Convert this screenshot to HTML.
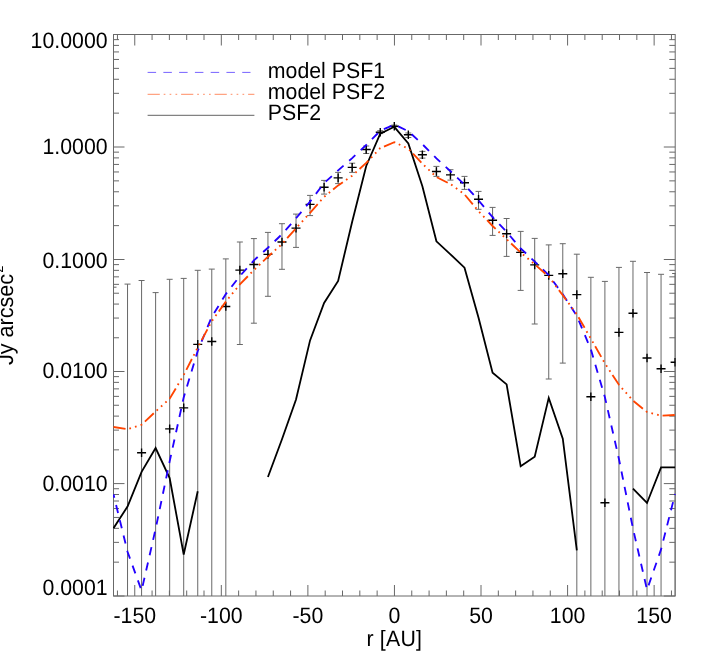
<!DOCTYPE html>
<html><head><meta charset="utf-8"><title>plot</title>
<style>html,body{margin:0;padding:0;background:#fff;}body{width:709px;height:668px;overflow:hidden;font-family:"Liberation Sans",sans-serif;}svg{display:block;will-change:transform;}</style>
</head><body>
<svg width="709" height="668" viewBox="0 0 709 668">
<rect width="709" height="668" fill="#fff"/>
<defs><clipPath id="c"><rect x="113.0" y="34.0" width="562.7" height="562.5"/></clipPath></defs>
<g stroke="#686868" stroke-width="1" fill="none" shape-rendering="auto">
<rect x="113.5" y="34.5" width="561.7" height="561.5"/>
<path d="M117.44 596.0v-5.5M117.44 34.5v5.5M134.75 596.0v-11M134.75 34.5v11M152.07 596.0v-5.5M152.07 34.5v5.5M169.38 596.0v-5.5M169.38 34.5v5.5M186.69 596.0v-5.5M186.69 34.5v5.5M204.01 596.0v-5.5M204.01 34.5v5.5M221.32 596.0v-11M221.32 34.5v11M238.63 596.0v-5.5M238.63 34.5v5.5M255.95 596.0v-5.5M255.95 34.5v5.5M273.26 596.0v-5.5M273.26 34.5v5.5M290.57 596.0v-5.5M290.57 34.5v5.5M307.88 596.0v-11M307.88 34.5v11M325.20 596.0v-5.5M325.20 34.5v5.5M342.51 596.0v-5.5M342.51 34.5v5.5M359.82 596.0v-5.5M359.82 34.5v5.5M377.14 596.0v-5.5M377.14 34.5v5.5M394.45 596.0v-11M394.45 34.5v11M411.76 596.0v-5.5M411.76 34.5v5.5M429.08 596.0v-5.5M429.08 34.5v5.5M446.39 596.0v-5.5M446.39 34.5v5.5M463.70 596.0v-5.5M463.70 34.5v5.5M481.01 596.0v-11M481.01 34.5v11M498.33 596.0v-5.5M498.33 34.5v5.5M515.64 596.0v-5.5M515.64 34.5v5.5M532.95 596.0v-5.5M532.95 34.5v5.5M550.27 596.0v-5.5M550.27 34.5v5.5M567.58 596.0v-11M567.58 34.5v11M584.89 596.0v-5.5M584.89 34.5v5.5M602.21 596.0v-5.5M602.21 34.5v5.5M619.52 596.0v-5.5M619.52 34.5v5.5M636.83 596.0v-5.5M636.83 34.5v5.5M654.14 596.0v-11M654.14 34.5v11M671.46 596.0v-5.5M671.46 34.5v5.5M113.5 596.00h11M675.2 596.00h-11.4M113.5 562.16h5.5M675.2 562.16h-5.9M113.5 542.37h5.5M675.2 542.37h-5.9M113.5 528.33h5.5M675.2 528.33h-5.9M113.5 517.44h5.5M675.2 517.44h-5.9M113.5 508.54h5.5M675.2 508.54h-5.9M113.5 501.01h5.5M675.2 501.01h-5.9M113.5 494.49h5.5M675.2 494.49h-5.9M113.5 488.74h5.5M675.2 488.74h-5.9M113.5 483.60h11M675.2 483.60h-11.4M113.5 449.85h5.5M675.2 449.85h-5.9M113.5 430.11h5.5M675.2 430.11h-5.9M113.5 416.11h5.5M675.2 416.11h-5.9M113.5 405.25h5.5M675.2 405.25h-5.9M113.5 396.37h5.5M675.2 396.37h-5.9M113.5 388.86h5.5M675.2 388.86h-5.9M113.5 382.36h5.5M675.2 382.36h-5.9M113.5 376.63h5.5M675.2 376.63h-5.9M113.5 371.50h11M675.2 371.50h-11.4M113.5 337.78h5.5M675.2 337.78h-5.9M113.5 318.06h5.5M675.2 318.06h-5.9M113.5 304.07h5.5M675.2 304.07h-5.9M113.5 293.22h5.5M675.2 293.22h-5.9M113.5 284.35h5.5M675.2 284.35h-5.9M113.5 276.85h5.5M675.2 276.85h-5.9M113.5 270.35h5.5M675.2 270.35h-5.9M113.5 264.62h5.5M675.2 264.62h-5.9M113.5 259.50h11M675.2 259.50h-11.4M113.5 225.63h5.5M675.2 225.63h-5.9M113.5 205.82h5.5M675.2 205.82h-5.9M113.5 191.77h5.5M675.2 191.77h-5.9M113.5 180.87h5.5M675.2 180.87h-5.9M113.5 171.96h5.5M675.2 171.96h-5.9M113.5 164.43h5.5M675.2 164.43h-5.9M113.5 157.90h5.5M675.2 157.90h-5.9M113.5 152.15h5.5M675.2 152.15h-5.9M113.5 147.00h11M675.2 147.00h-11.4M113.5 113.13h5.5M675.2 113.13h-5.9M113.5 93.32h5.5M675.2 93.32h-5.9M113.5 79.27h5.5M675.2 79.27h-5.9M113.5 68.37h5.5M675.2 68.37h-5.9M113.5 59.46h5.5M675.2 59.46h-5.9M113.5 51.93h5.5M675.2 51.93h-5.9M113.5 45.40h5.5M675.2 45.40h-5.9M113.5 39.65h5.5M675.2 39.65h-5.9"/>
</g>
<g stroke="#686868" stroke-width="1" fill="none" clip-path="url(#c)">
<path d="M113.50 287.2V596.0M110.50 287.2h6M127.54 284.1V596.0M124.54 284.1h6M141.58 280.5V596.0M138.58 280.5h6M155.62 292.6V596.0M152.62 292.6h6M169.66 279.3V596.0M166.66 279.3h6M183.70 278.4V596.0M180.70 278.4h6M197.74 270.3V596.0M194.74 270.3h6M211.78 269.1V596.0M208.78 269.1h6M225.82 258.9V596.0M222.82 258.9h6M239.86 242.0V344.5M236.86 242.0h6M236.86 344.5h6M253.90 238.6V323.2M250.90 238.6h6M250.90 323.2h6M267.94 232.4V296.3M264.94 232.4h6M264.94 296.3h6M281.98 223.7V269.3M278.98 223.7h6M278.98 269.3h6M296.02 214.1V247.4M293.02 214.1h6M293.02 247.4h6M310.06 195.4V215.6M307.06 195.4h6M307.06 215.6h6M324.10 180.4V194.1M321.10 180.4h6M321.10 194.1h6M338.14 172.4V183.6M335.14 172.4h6M335.14 183.6h6M352.18 163.2V172.4M349.18 163.2h6M349.18 172.4h6M366.22 146.0V153.5M363.22 146.0h6M363.22 153.5h6M380.26 130.7V133.6M377.26 130.7h6M377.26 133.6h6M394.30 125.1V126.8M391.30 125.1h6M391.30 126.8h6M408.34 133.0V137.5M405.34 133.0h6M405.34 137.5h6M422.38 151.4V158.1M419.38 151.4h6M419.38 158.1h6M436.42 166.4V176.4M433.42 166.4h6M433.42 176.4h6M450.46 169.7V180.1M447.46 169.7h6M447.46 180.1h6M464.50 176.4V189.4M461.50 176.4h6M461.50 189.4h6M478.54 191.4V209.3M475.54 191.4h6M475.54 209.3h6M492.58 207.4V235.4M489.58 207.4h6M489.58 235.4h6M506.62 218.5V256.4M503.62 218.5h6M503.62 256.4h6M520.66 231.4V290.4M517.66 231.4h6M517.66 290.4h6M534.70 238.4V324.0M531.70 238.4h6M531.70 324.0h6M548.74 244.9V379.0M545.74 244.9h6M545.74 379.0h6M562.78 243.7V363.1M559.78 243.7h6M559.78 363.1h6M576.82 254.2V596.0M573.82 254.2h6M590.86 277.3V596.0M587.86 277.3h6M604.90 281.4V596.0M601.90 281.4h6M618.94 267.4V596.0M615.94 267.4h6M632.98 261.3V596.0M629.98 261.3h6M647.02 272.5V596.0M644.02 272.5h6M661.06 274.3V596.0M658.06 274.3h6M675.10 273.5V596.0M672.10 273.5h6"/>
</g>
<g stroke="#000" stroke-width="1.4" fill="none" clip-path="url(#c)">
<path d="M137.08 452.7h9M141.58 448.4v8.6M165.16 428.9h9M169.66 424.6v8.6M179.20 407.9h9M183.70 403.6v8.6M193.24 344.4h9M197.74 340.1v8.6M207.28 341.5h9M211.78 337.2v8.6M221.32 306.5h9M225.82 302.2v8.6M235.36 270.1h9M239.86 265.8v8.6M249.40 264.5h9M253.90 260.2v8.6M263.44 254.4h9M267.94 250.1v8.6M277.48 242.0h9M281.98 237.7v8.6M291.52 228.1h9M296.02 223.8v8.6M305.56 204.4h9M310.06 200.1v8.6M319.60 187.2h9M324.10 182.9v8.6M333.64 177.9h9M338.14 173.6v8.6M347.68 167.4h9M352.18 163.1v8.6M361.72 149.5h9M366.22 145.2v8.6M375.76 132.2h9M380.26 127.9v8.6M389.80 126.3h9M394.30 122.0v8.6M403.84 134.8h9M408.34 130.5v8.6M417.88 154.7h9M422.38 150.4v8.6M431.92 171.5h9M436.42 167.2v8.6M445.96 174.9h9M450.46 170.6v8.6M460.00 182.7h9M464.50 178.4v8.6M474.04 199.3h9M478.54 195.0v8.6M488.08 220.2h9M492.58 215.9v8.6M502.12 233.7h9M506.62 229.3v8.6M516.16 252.4h9M520.66 248.1v8.6M530.20 264.9h9M534.70 260.6v8.6M544.24 275.4h9M548.74 271.1v8.6M558.28 273.8h9M562.78 269.5v8.6M572.32 294.6h9M576.82 290.3v8.6M586.36 396.7h9M590.86 392.4v8.6M600.40 502.7h9M604.90 498.4v8.6M614.44 332.4h9M618.94 328.1v8.6M628.48 313.2h9M632.98 308.9v8.6M642.52 358.0h9M647.02 353.7v8.6M656.56 368.7h9M661.06 364.4v8.6M670.60 362.2h9M675.10 357.9v8.6"/>
</g>
<g fill="none" stroke-width="1.85" clip-path="url(#c)" stroke-linejoin="miter">
<polyline stroke="#000" stroke-width="1.8" points="113.50,528.2 127.54,506.5 141.58,471.9 155.62,448.0 169.66,478.0 183.70,554.5 197.74,491.2"/>
<polyline stroke="#000" stroke-width="1.8" points="267.94,477.0 281.98,439.3 296.02,399.5 310.06,340.4 324.10,302.9 338.14,280.9 352.18,221.7 366.22,166.0 380.26,133.6 394.30,126.8 408.34,143.5 422.38,186.3 436.42,241.3 450.46,254.3 464.50,267.7 478.54,317.8 492.58,372.8 506.62,384.4 520.66,466.3 534.70,456.7 548.74,397.9 562.78,438.6 576.82,550.3"/>
<polyline stroke="#000" stroke-width="1.8" points="632.98,488.6 647.02,503.0 661.06,467.4 675.10,467.4"/>
<polyline stroke="#2200ff" stroke-dasharray="8.3 7.415" stroke-dashoffset="4.8" points="113.50,494.4 127.54,551.8 141.58,590.6 155.62,528.9 169.66,461.4 183.70,397.4 197.74,350.9 211.78,316.8 225.82,294.1 239.86,276.1 253.90,260.4 267.94,247.7 281.98,234.2 296.02,218.3 310.06,201.6 324.10,183.1 338.14,170.4 352.18,158.1 366.22,145.0 380.26,130.8 394.30,124.6 408.34,131.2 422.38,144.2 436.42,158.4 450.46,171.2 464.50,184.6 478.54,200.4 492.58,217.2 506.62,231.9 520.66,248.4 534.70,261.6 548.74,275.1 562.78,294.4 576.82,315.8 590.86,349.4 604.90,397.2 618.94,459.0 632.98,528.5 647.02,589.8 661.06,549.4 675.10,494.0"/>
<polyline stroke="#ff4400" stroke-dasharray="12.2 3.9 1.7 4.2 1.7 4.2 1.7 3.9" points="113.50,427.0 127.54,429.2 141.58,424.7 155.62,411.5 169.66,398.7 183.70,375.1 197.74,347.5 211.78,321.2 225.82,301.6 239.86,284.4 253.90,270.1 267.94,256.7 281.98,244.0 296.02,228.2 310.06,212.8 324.10,196.9 338.14,185.4 352.18,175.7 366.22,162.9 380.26,148.1 394.30,142.2 408.34,148.7 422.38,163.7 436.42,177.0 450.46,184.1 464.50,194.4 478.54,211.2 492.58,226.0 506.62,239.2 520.66,252.5 534.70,264.3 548.74,276.6 562.78,295.2 576.82,314.3 590.86,338.7 604.90,363.4 618.94,384.8 632.98,400.6 647.02,412.0 661.06,415.7 675.10,415.0"/>
</g>
<g fill="none" stroke-width="0.62">
<path stroke="#2200ff" stroke-dasharray="8.5 7.27" d="M147.6 72.4H250.5"/>
<path stroke="#ff4400" stroke-dasharray="12.2 3.9 1.7 4.2 1.7 4.2 1.7 3.9" d="M147.6 94.3H254.4"/>
<path stroke="#000" d="M147.6 115.3H254.4"/>
</g>
<g font-family="'Liberation Sans', sans-serif" font-size="21.3" fill="#000" text-rendering="geometricPrecision">
<text transform="translate(267.8 78.0) scale(1 1.045)" text-anchor="start">model PSF1</text>
<text transform="translate(267.8 99.1) scale(1 1.045)" text-anchor="start">model PSF2</text>
<text transform="translate(267.8 120.2) scale(1 1.045)" text-anchor="start">PSF2</text>
<text transform="translate(107.6 48.4) scale(1 1.045)" text-anchor="end">10.0000</text>
<text transform="translate(107.6 154.0) scale(1 1.045)" text-anchor="end">1.0000</text>
<text transform="translate(107.6 267.6) scale(1 1.045)" text-anchor="end">0.1000</text>
<text transform="translate(107.6 378.4) scale(1 1.045)" text-anchor="end">0.0100</text>
<text transform="translate(107.6 491.0) scale(1 1.045)" text-anchor="end">0.0010</text>
<text transform="translate(107.6 595.2) scale(1 1.045)" text-anchor="end">0.0001</text>
<text transform="translate(134.8 623.0) scale(1 1.045)" text-anchor="middle">-150</text>
<text transform="translate(221.3 623.0) scale(1 1.045)" text-anchor="middle">-100</text>
<text transform="translate(307.9 623.0) scale(1 1.045)" text-anchor="middle">-50</text>
<text transform="translate(394.4 623.0) scale(1 1.045)" text-anchor="middle">0</text>
<text transform="translate(481.0 623.0) scale(1 1.045)" text-anchor="middle">50</text>
<text transform="translate(567.6 623.0) scale(1 1.045)" text-anchor="middle">100</text>
<text transform="translate(654.1 623.0) scale(1 1.045)" text-anchor="middle">150</text>
<text transform="translate(394.3 646.4) scale(1 1.045)" letter-spacing="0.22" text-anchor="middle">r [AU]</text>
<text font-size="21.6" transform="translate(12.5 365.1) rotate(-90) scale(1 1.045)">Jy arcsec<tspan font-size="13" dx="-3.2" dy="-9.3">-2</tspan></text>
</g>
</svg>
</body></html>
